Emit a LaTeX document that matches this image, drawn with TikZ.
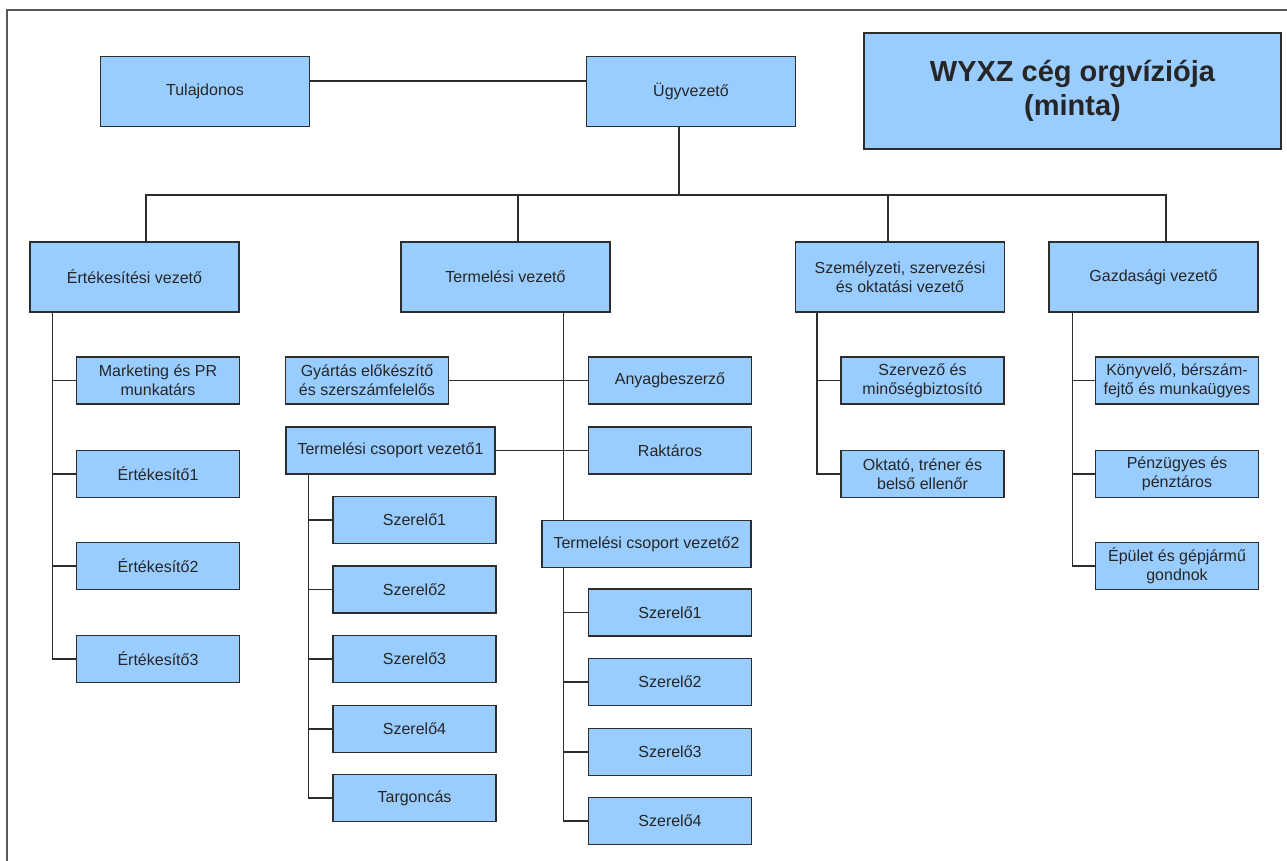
\documentclass[tikz,border=0pt]{standalone}
\usepackage{fontspec}
\setmainfont{Liberation Sans}
\usepackage{xcolor}
\usepackage{tikz}
\definecolor{boxblue}{RGB}{153,204,255}
\definecolor{linegray}{RGB}{45,45,45}
\tikzset{
    box/.style = {draw = linegray, fill = boxblue, line width = 1.5pt, inner sep = 0pt,
        align = center, text = black!85, font = \fontsize{16}{19}\selectfont},
    bigbox/.style = {box, minimum width = 209pt, minimum height = 70pt},
    widebox/.style = {box, minimum width = 209pt, minimum height = 47pt},
    smallbox/.style = {box, minimum width = 163pt, minimum height = 47pt},
    conn/.style = {draw = linegray, line width = 1.5pt}
}
\newcommand{\so}{\H{o}}

\begin{document}
\begin{tikzpicture}[x = 1pt, y = -1pt]
        \useasboundingbox (0, 0) rectangle (1287, 861);
        \fill[white] (0, 0) rectangle (1287, 861);
        \draw[linegray!80, line width = 1.5pt] (7, 861) -- (7, 10) -- (1287, 10);

        \node[bigbox] (tul) at (205, 91.5) {Tulajdonos};
        \node[bigbox] (ugy) at (691, 91.5) {Ügyvezet\so};
        \node[box, minimum width = 417pt, minimum height = 116pt,
            font = \fontsize{29}{34}\selectfont\bfseries] (title) at (1072.5, 91)
            {WYXZ cég orgvíziója\\(minta)};

        \node[bigbox] (ert) at (134.5, 277) {Értékesítési vezet\so};
        \node[bigbox] (term) at (505.5, 277) {Termelési vezet\so};
        \node[bigbox] (szem) at (900, 277) {Személyzeti, szervezési\\és oktatási vezet\so};
        \node[bigbox] (gazd) at (1153.5, 277) {Gazdasági vezet\so};

        \node[smallbox] (mkt) at (158, 380.5) {Marketing és PR\\munkatárs};
        \node[smallbox] (ert1) at (158, 474) {Értékesít\so1};
        \node[smallbox] (ert2) at (158, 566) {Értékesít\so2};
        \node[smallbox] (ert3) at (158, 659) {Értékesít\so3};

        \node[smallbox] (gyart) at (367, 380.5) {Gyártás el\H{o}készít\H{o}\\és szerszámfelel\H{o}s};
        \node[smallbox] (anyag) at (670, 380.5) {Anyagbeszerz\so};
        \node[widebox] (tcv1) at (390.5, 450.5) {Termelési csoport vezet\so1};
        \node[smallbox] (rakt) at (670, 450.5) {Raktáros};
        \node[widebox] (tcv2) at (646.5, 544) {Termelési csoport vezet\so2};

        \node[smallbox] (sza1) at (414.5, 520) {Szerel\so1};
        \node[smallbox] (sza2) at (414.5, 589.5) {Szerel\so2};
        \node[smallbox] (sza3) at (414.5, 659) {Szerel\so3};
        \node[smallbox] (sza4) at (414.5, 729) {Szerel\so4};
        \node[smallbox] (targ) at (414.5, 798) {Targoncás};

        \node[smallbox] (szb1) at (670, 612.5) {Szerel\so1};
        \node[smallbox] (szb2) at (670, 682) {Szerel\so2};
        \node[smallbox] (szb3) at (670, 752) {Szerel\so3};
        \node[smallbox] (szb4) at (670, 821) {Szerel\so4};

        \node[smallbox] (szerv) at (922.5, 380.5) {Szervez\so{} és\\min\so ségbiztosító};
        \node[smallbox] (okt) at (922.5, 474) {Oktató, tréner és\\bels\so{} ellen\H{o}r};

        \node[smallbox] (konyv) at (1177, 380.5) {Könyvel\so, bérszám-\\fejt\so{} és munkaügyes};
        \node[smallbox] (penz) at (1177, 474) {Pénzügyes és\\pénztáros};
        \node[smallbox] (epul) at (1177, 566) {Épület és gépjárm\H{u}\\gondnok};

        \coordinate (bus) at (679, 195);

        \draw[conn] ([yshift = 10.5pt]tul.east) -- ([yshift = 10.5pt]ugy.west);
        \draw[conn] ([xshift = -12pt]ugy.south) -- (bus);
        \draw[conn] ([xshift = 11.5pt]ert.north) |- (bus) -| ([xshift = 12.5pt]gazd.north);
        \draw[conn] ([xshift = 12.5pt]term.north) -- ([xshift = 12.5pt]term.north |- bus);
        \draw[conn] ([xshift = -12pt]szem.north) -- ([xshift = -12pt]szem.north |- bus);

        \foreach \n in {mkt, ert1, ert2, ert3}
            \draw[conn] ([xshift = 23pt]ert.south west) |- (\n.west);
        \foreach \n in {szerv, okt}
            \draw[conn] ([xshift = 22pt]szem.south west) |- (\n.west);
        \foreach \n in {konyv, penz, epul}
            \draw[conn] ([xshift = 24pt]gazd.south west) |- (\n.west);

        \draw[conn] ([xshift = 58pt]term.south) -- ([xshift = 58pt]term.south |- tcv2.north);
        \draw[conn] (gyart.east) -- (anyag.west);
        \draw[conn] (tcv1.east) -- (rakt.west);
        \foreach \n in {sza1, sza2, sza3, sza4, targ}
            \draw[conn] ([xshift = 23pt]tcv1.south west) |- (\n.west);
        \foreach \n in {szb1, szb2, szb3, szb4}
            \draw[conn] ([xshift = 22pt]tcv2.south west) |- (\n.west);
\end{tikzpicture}
\end{document}
